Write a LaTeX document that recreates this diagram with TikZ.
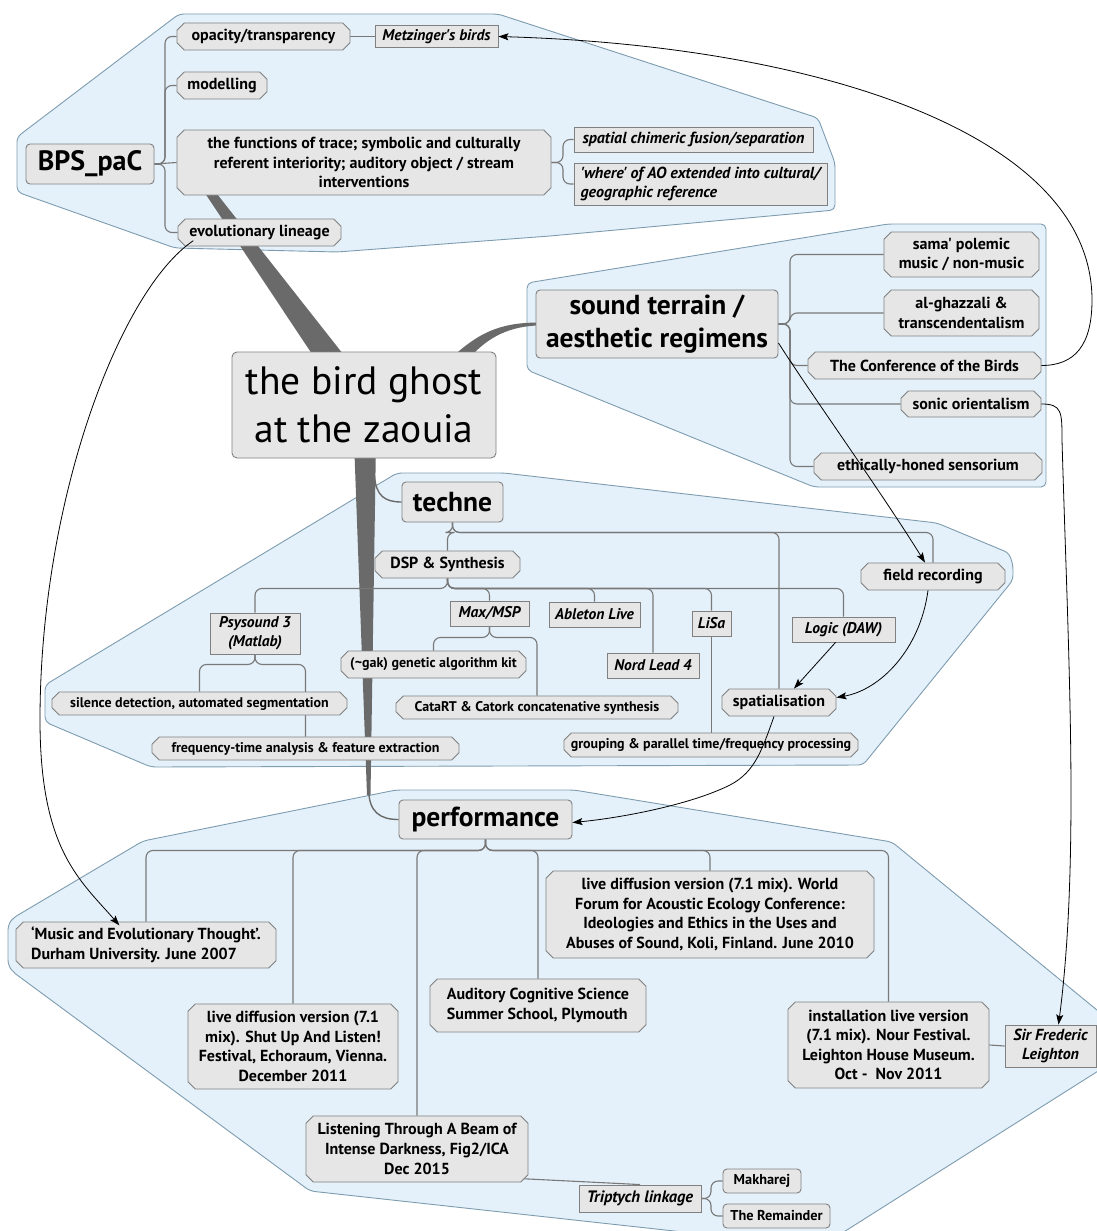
\documentclass[tikz,border=0pt]{standalone}
\usepackage{fontspec}
\setmainfont{PT Sans}[Ligatures=TeXOff]
\usetikzlibrary{shapes.misc,arrows.meta,calc}
\definecolor{clfill}{HTML}{E4F1FA}
\definecolor{clbord}{HTML}{7E9CB0}
\definecolor{ndfill}{HTML}{E6E6E6}
\definecolor{ndbord}{HTML}{808080}
\definecolor{lnk}{HTML}{787878}
\definecolor{bandc}{HTML}{6A6A6A}
\newcommand\fN{\fontsize{16}{19.6}\selectfont}
\newcommand\fS{\fontsize{14}{16}\selectfont}
\newcommand\fI{\fontsize{15.5}{19}\selectfont}
\newcommand\fB{\fontsize{27.5}{33}\selectfont}
\newcommand\fC{\fontsize{39.5}{48}\selectfont}
\pgfdeclarelayer{bg}
\pgfdeclarelayer{mid}
\pgfsetlayers{bg,mid,main}
\tikzset{
 cluster/.style={fill=clfill, draw=clbord, line width=0.9pt, rounded corners=5pt},
 nd/.style={draw=ndbord, fill=ndfill, line width=0.9pt, inner sep=0pt, align=center, text=black, font=\bfseries\fN},
 ch/.style={nd, chamfered rectangle, chamfered rectangle angle=45, chamfered rectangle xsep=4pt},
 rr/.style={nd, rounded corners=4pt},
 rt/.style={nd, rectangle, font=\bfseries\itshape\fN},
 ri/.style={nd, rectangle, font=\bfseries\itshape\fI},
 lk/.style={draw=lnk, line width=1.1pt, rounded corners=7pt},
 ar/.style={draw=black, line width=0.8pt, -{Stealth[length=10pt,width=7pt,inset=2pt]}},
 bandf/.style={fill=bandc},
 bandl/.style={draw=bandc, line width=1.4pt},
}
\begin{document}
\begin{tikzpicture}[x=1pt,y=-1pt]
\useasboundingbox (0,0) rectangle (1097,1231);
\clip (0,0) rectangle (1097,1231);
% ---------- clusters ----------
\begin{pgfonlayer}{bg}
\fill[white] (0,0) rectangle (1097,1231);
\path[cluster] (179,14) -- (498,14) -- (818,118) -- (835,163) -- (835,210) -- (550,236) -- (337,252) -- (175,248) -- (17,192) -- (17,137) -- cycle;
\path[cluster] (527,283) -- (888,224) -- (1046,224) -- (1046,487) -- (814,487) -- (527,370) -- cycle;
\path[cluster] (397,473) -- (504,473) -- (937,523) -- (1009,553) -- (1013,565) -- (1013,580) -- (863,765) -- (151,767) -- (45,722) -- (45,685) -- cycle;
\path[cluster] (396,790) -- (574,790) -- (892,842) -- (1125,1033) -- (1125,1054) -- (820,1247) -- (310,1191) -- (13,972) -- (8,965) -- (8,925) -- (13,918) -- (143,841) -- cycle;
\end{pgfonlayer}
% ---------- nodes ----------
\node[rr, rounded corners=5pt, font=\fC, minimum width=264pt, minimum height=106pt] (cen) at (364,405) {the bird ghost\\at the zaouia};
% top cluster
\node[rr, font=\bfseries\fontsize{28}{33}\selectfont, minimum width=128pt, minimum height=40pt] (bps) at (90,164) {BPS\_paC};
\node[ch, minimum width=173pt, minimum height=27pt] (opa) at (263.5,36.5) {opacity/transparency};
\node[ri, minimum width=123pt, minimum height=22pt] (metz) at (436.5,36.5) {Metzinger's birds};
\node[ch, minimum width=90pt, minimum height=27pt] (mod) at (222,85.5) {modelling};
\node[ch, minimum width=374pt, minimum height=65pt] (func) at (364,162.5) {the functions of trace; symbolic and culturally\\referent interiority; auditory object / stream\\interventions};
\node[ch, minimum width=163pt, minimum height=27pt] (evo) at (259.5,232.5) {evolutionary lineage};
\node[rt, minimum width=239pt, minimum height=25pt] (spat) at (693.5,139.5) {spatial chimeric fusion/separation};
\node[rt, align=left, minimum width=253pt, minimum height=42pt] (where) at (700.5,184) {'where' of AO extended into cultural/\\geographic reference};
% sound cluster
\node[rr, font=\bfseries\fB, minimum width=242pt, minimum height=68pt] (sound) at (657,324) {sound terrain /\\aesthetic regimens};
\node[ch, minimum width=155pt, minimum height=45pt] (sama) at (961.5,254.5) {sama' polemic\\music / non-music};
\node[ch, minimum width=155pt, minimum height=46pt] (ghaz) at (961.5,313) {al-ghazzali \&\\transcendentalism};
\node[ch, minimum width=233pt, minimum height=27pt] (conf) at (924.5,365.5) {The Conference of the Birds};
\node[ch, minimum width=140pt, minimum height=26pt] (sonic) at (971,404) {sonic orientalism};
\node[ch, minimum width=228pt, minimum height=27pt] (eth) at (928,466.5) {ethically-honed sensorium};
% techne cluster
\node[rr, font=\bfseries\fB, minimum width=101pt, minimum height=40pt] (techne) at (452.5,502) {techne};
\node[ch, minimum width=145pt, minimum height=27pt] (dsp) at (447.5,564.5) {DSP \& Synthesis};
\node[ri, minimum width=90pt, minimum height=41pt] (psy) at (255,633.5) {Psysound 3\\(Matlab)};
\node[ri, minimum width=79pt, minimum height=25pt] (max) at (489.5,613.5) {Max/MSP};
\node[ch, font=\bfseries\fS, minimum width=185pt, minimum height=27pt] (gak) at (433.5,664.5) {(\textasciitilde gak) genetic algorithm kit};
\node[ch, font=\bfseries\fS, minimum width=295pt, minimum height=23pt] (sil) at (199.5,703.5) {silence detection, automated segmentation};
\node[ch, font=\bfseries\fS, minimum width=307pt, minimum height=23pt] (freq) at (305.5,748.5) {frequency-time analysis \& feature extraction};
\node[ch, font=\bfseries\fS, minimum width=282pt, minimum height=23pt] (cata) at (537,707.5) {CataRT \& Catork concatenative synthesis};
\node[ri, minimum width=91pt, minimum height=25pt] (able) at (594.5,614.5) {Ableton Live};
\node[ri, minimum width=92pt, minimum height=25pt] (nord) at (653,665.5) {Nord Lead 4};
\node[ri, minimum width=39pt, minimum height=25pt] (lisa) at (711.5,623.5) {LiSa};
\node[ri, minimum width=103pt, minimum height=25pt] (logic) at (843.5,629.5) {Logic (DAW)};
\node[ch, minimum width=144pt, minimum height=27pt] (field) at (933,576.5) {field recording};
\node[ch, minimum width=114pt, minimum height=27pt] (spatl) at (779,702.5) {spatialisation};
\node[ch, font=\bfseries\fS, minimum width=294pt, minimum height=24pt] (group) at (711,745) {grouping \& parallel time/frequency processing};
% performance cluster
\node[rr, font=\bfseries\fB, minimum width=173pt, minimum height=39pt] (perf) at (485.5,819.5) {performance};
\node[ch, align=left, minimum width=260pt, minimum height=46pt] (music) at (146,945) {‘Music and Evolutionary Thought’.\\Durham University. June 2007};
\node[ch, minimum width=210pt, minimum height=85pt] (shut) at (293,1046.5) {live diffusion version (7.1\\mix). Shut Up And Listen!\\Festival, Echoraum, Vienna.\\December 2011};
\node[ch, align=left, minimum width=216pt, minimum height=53pt] (aud) at (538,1005.5) {Auditory Cognitive Science\\Summer School, Plymouth};
\node[ch, minimum width=328pt, minimum height=87pt] (world) at (710,914.5) {live diffusion version (7.1 mix). World\\Forum for Acoustic Ecology Conference:\\Ideologies and Ethics in the Uses and\\Abuses of Sound, Koli, Finland. June 2010};
\node[ch, minimum width=201pt, minimum height=86pt] (inst) at (888.5,1045) {installation live version\\(7.1 mix). Nour Festival.\\Leighton House Museum.\\Oct -\ \ Nov 2011};
\node[rt, minimum width=91pt, minimum height=42pt] (sir) at (1050.5,1046) {Sir Frederic\\Leighton};
\node[ch, minimum width=222pt, minimum height=66pt] (listen) at (417,1149) {Listening Through A Beam of\\Intense Darkness, Fig2/ICA\\Dec 2015};
\node[rt, font=\bfseries\itshape\fontsize{16.5}{19}\selectfont, minimum width=122pt, minimum height=27pt] (trip) at (640,1198.5) {Triptych linkage};
\node[rr, font=\bfseries\fontsize{14.3}{16}\selectfont, minimum width=78pt, minimum height=24pt] (makh) at (762,1181) {Makharej};
\node[rr, font=\bfseries\fontsize{14.3}{16}\selectfont, minimum width=107pt, minimum height=24pt] (rem) at (776.5,1216) {The Remainder};
% ---------- bands and tree connectors ----------
\begin{pgfonlayer}{mid}
\fill[bandf] (376.2,396.2) -- (351.8,413.8) -- (197.8,182.3) -- (204.2,177.7) -- cycle;
\fill[bandf] (447,362) .. controls (478,332) and (500,323) .. (537,322.5) -- (537,325.5) .. controls (505,327) and (484,340) .. (466,362) -- cycle;
\fill[bandf] (354,440) -- (376,440) -- (370.5,795) -- (367,795) -- cycle;
\draw[bandl] (368.7,790) .. controls (369,812) and (380,819.5) .. (perf.west);
\draw[bandl] (374.5,476) .. controls (376,496) and (385,502) .. (techne.west);
% top
\draw[lk] (bps.east) -- (165,164) |- (opa.west);
\draw[lk] (bps.east) -- (165,164) |- (mod.west);
\draw[lk] (bps.east) -- (func.west);
\draw[lk] (bps.east) -- (165,164) |- (evo.west);
\draw[lk] (opa.east) -- (metz.west);
\draw[lk] (func.east) -- (563,162.5) |- (spat.west);
\draw[lk] (func.east) -- (563,162.5) |- (where.west);
% sound
\foreach \c in {sama,ghaz,conf,sonic,eth}
  \draw[lk] (sound.east) -- (790,324) |- (\c.west);
% techne
\foreach \c in {dsp,spatl,field}
  \draw[lk] (techne.south) -- ++(0,10) -| (\c.north);
\foreach \c in {psy,max,able,nord,lisa,logic}
  \draw[lk] (dsp.south) -- ++(0,10) -| (\c.north);
\foreach \c in {gak,cata}
  \draw[lk] (max.south) -- ++(0,11) -| (\c.north);
\foreach \c in {sil,freq}
  \draw[lk] (psy.south) -- ++(0,10) -| (\c.north);
\draw[lk] (lisa.south) -- (lisa.south |- group.north);
% performance
\foreach \c in {music,shut,listen,aud,world,inst}
  \draw[lk] (perf.south) -- ++(0,11) -| (\c.north);
\draw[lk] ($(listen.south east)+(-3,0)$) -- (trip.north);
\draw[lk] (trip.east) -- (711,1198.5) |- (makh.west);
\draw[lk] (trip.east) -- (711,1198.5) |- (rem.west);
\draw[lk] (inst.east) -- (sir.west);
\end{pgfonlayer}
% ---------- relation arrows ----------
\draw[ar] (conf.east) .. controls (1075,365.5) and (1092,345) .. (1092,300) .. controls (1092,135) and (820,46) .. (metz.east);
\draw[ar] ($(sound.east)+(0,19)$) .. controls (815,400) and (880,490) .. ($(field.north)+(-8,0)$);
\draw[ar] (sonic.east) .. controls (1062,404) and (1062,412) .. (1062,440) .. controls (1068,650) and (1080,860) .. ($(sir.north)+(8,0)$);
\draw[ar] ($(logic.south)+(-8,0)$) -- ($(spatl.north)+(15,0)$);
\draw[ar] ($(field.south)+(-5,0)$) .. controls (920,650) and (880,690) .. ($(spatl.east)+(0,-5)$);
\draw[ar] ($(spatl.south)+(-5,0)$) .. controls (762,750) and (755,772) .. (730,785) .. controls (690,805) and (620,818) .. ($(perf.east)+(0,3)$);
\draw[ar] ($(evo.south west)+(12,-2)$) .. controls (120,290) and (40,500) .. (40,720) .. controls (40,850) and (80,880) .. ($(music.north west)+(100,0)$);
\end{tikzpicture}
\end{document}
